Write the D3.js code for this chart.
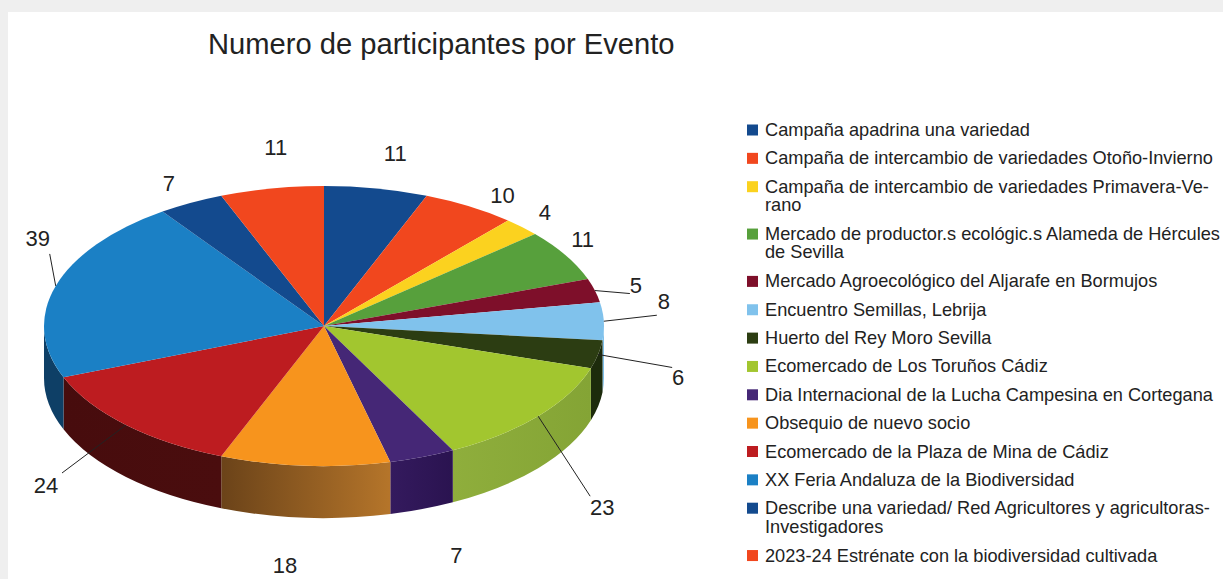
<!DOCTYPE html>
<html>
<head>
<meta charset="utf-8">
<script src="https://cdn.jsdelivr.net/npm/d3@7"></script>
<style>
  html, body { margin: 0; padding: 0; background: #fff; }
  svg { display: block; }
  text { font-family: "Liberation Sans", sans-serif; fill: #222; }
</style>
</head>
<body>
<div id="visualization"></div>
<script>
var categories = [
  "Campaña apadrina una variedad",
  "Campaña de intercambio de variedades Otoño-Invierno",
  "Campaña de intercambio de variedades Primavera-Ve-\nrano",
  "Mercado de productor.s ecológic.s Alameda de Hércules\nde Sevilla",
  "Mercado Agroecológico del Aljarafe en Bormujos",
  "Encuentro Semillas, Lebrija",
  "Huerto del Rey Moro Sevilla",
  "Ecomercado de Los Toruños Cádiz",
  "Dia Internacional de la Lucha Campesina en Cortegana",
  "Obsequio de nuevo socio",
  "Ecomercado de la Plaza de Mina de Cádiz",
  "XX Feria Andaluza de la Biodiversidad",
  "Describe una variedad/ Red Agricultores y agricultoras-\nInvestigadores",
  "2023-24 Estrénate con la biodiversidad cultivada"
];
var values = [11, 10, 4, 11, 5, 8, 6, 23, 7, 18, 24, 39, 7, 11];

var colors = ["#134a8e", "#f1471e", "#fbd21f", "#57a03c", "#7e0f2a", "#80c2ec", "#2c3d12",
              "#a2c62f", "#452776", "#f7941d", "#bd1c20", "#1b80c5", "#134a8e", "#f1471e"];
// left and right colour of the side wall
var sideColors = {
  6: ["#1d2b0c", "#1d2b0c"],
  7: ["#84a435", "#8fae3c"],
  8: ["#2a1350", "#341a5e"],
  9: ["#b5752a", "#6b4319"],
  10: ["#4a0d0e", "#470c0d"],
  11: ["#0e3f66", "#0e3f66"]
};
// label offset from the rim point of its slice, and whether it has a leader line
var labelOffsets = [[19, -33], [33, -9], [23, -13], [17, -14], [41, -3], [60, -18], [80, 25],
                    [64, 93], [34, 100], [-20, 102], [-80, 62], [-18, -46], [-22, -18], [4, -39]];
var hasLeader = [0, 0, 0, 0, 1, 1, 1, 1, 0, 0, 1, 1, 0, 0];
var leaderEnd = {
  4: [35, 3], 5: [53, -6], 6: [74, 13], 7: [52, 80], 10: [-64, 48], 11: [-6, -32]
};

var width = 1223, height = 579;
var cx = 324, cy = 326, rx = 280, ry = 140, depth = 52;

var svg = d3.select("#visualization").append("svg")
    .attr("width", width)
    .attr("height", height);

// grey edge of the page
svg.append("rect").attr("width", width).attr("height", height).attr("fill", "#efefef");
svg.append("rect").attr("x", 8).attr("y", 12).attr("width", width - 8).attr("height", height - 12).attr("fill", "#fff");

svg.append("text")
    .attr("x", 208)
    .attr("y", 54)
    .attr("font-size", 29.15)
    .text("Numero de participantes por Evento");

var pie = d3.pie().sort(null).value(function(d) { return d; });
var slices = pie(values);

function rimX(t) { return cx + rx * Math.sin(t); }
function rimY(t) { return cy - ry * Math.cos(t); }

// side walls, only the front half of the ellipse shows
var defs = svg.append("defs");
var side = svg.append("g");
slices.forEach(function(s, i) {
  var a = Math.max(s.startAngle, Math.PI / 2), b = Math.min(s.endAngle, Math.PI * 1.5);
  if (b <= a) return;
  var pair = sideColors[i] || [colors[i], colors[i]];
  var grad = defs.append("linearGradient").attr("id", "side" + i);
  grad.append("stop").attr("offset", "0%").attr("stop-color", pair[1]);
  grad.append("stop").attr("offset", "100%").attr("stop-color", pair[0]);
  var p = "M" + rimX(a) + "," + rimY(a) +
    "A" + rx + "," + ry + " 0 0 1 " + rimX(b) + "," + rimY(b) +
    "L" + rimX(b) + "," + (rimY(b) + depth) +
    "A" + rx + "," + ry + " 0 0 0 " + rimX(a) + "," + (rimY(a) + depth) + "Z";
  side.append("path").attr("d", p).attr("fill", "url(#side" + i + ")");
});

// top of the pie, a flat arc squashed into an ellipse
var arc = d3.arc().innerRadius(0).outerRadius(rx);
svg.append("g")
    .attr("transform", "translate(" + cx + "," + cy + ") scale(1," + (ry / rx) + ")")
  .selectAll("path")
  .data(slices)
  .enter().append("path")
    .attr("d", arc)
    .attr("fill", function(d, i) { return colors[i]; });

// value labels and leader lines
slices.forEach(function(s, i) {
  var mid = (s.startAngle + s.endAngle) / 2;
  var x0 = rimX(mid), y0 = rimY(mid);
  if (hasLeader[i]) {
    svg.append("line")
        .attr("x1", x0).attr("y1", y0)
        .attr("x2", x0 + leaderEnd[i][0]).attr("y2", y0 + leaderEnd[i][1])
        .attr("stroke", "#222")
        .attr("stroke-width", 1);
  }
  svg.append("text")
      .attr("x", x0 + labelOffsets[i][0])
      .attr("y", y0 + labelOffsets[i][1])
      .attr("text-anchor", "middle")
      .attr("dominant-baseline", "middle")
      .attr("font-size", 22)
      .text(values[i]);
});

// legend
var legend = svg.append("g");
var rowY = 130;
categories.forEach(function(name, i) {
  var lines = name.split("\n");
  legend.append("rect")
      .attr("x", 747).attr("y", rowY - 5.5)
      .attr("width", 11).attr("height", 11)
      .attr("fill", colors[i]);
  lines.forEach(function(line, j) {
    legend.append("text")
        .attr("x", 765)
        .attr("y", rowY + j * 18.3 + 6)
        .attr("font-size", 18.2)
        .text(line);
  });
  rowY += lines.length * 19 + 9.35;
});
</script>
</body>
</html>
